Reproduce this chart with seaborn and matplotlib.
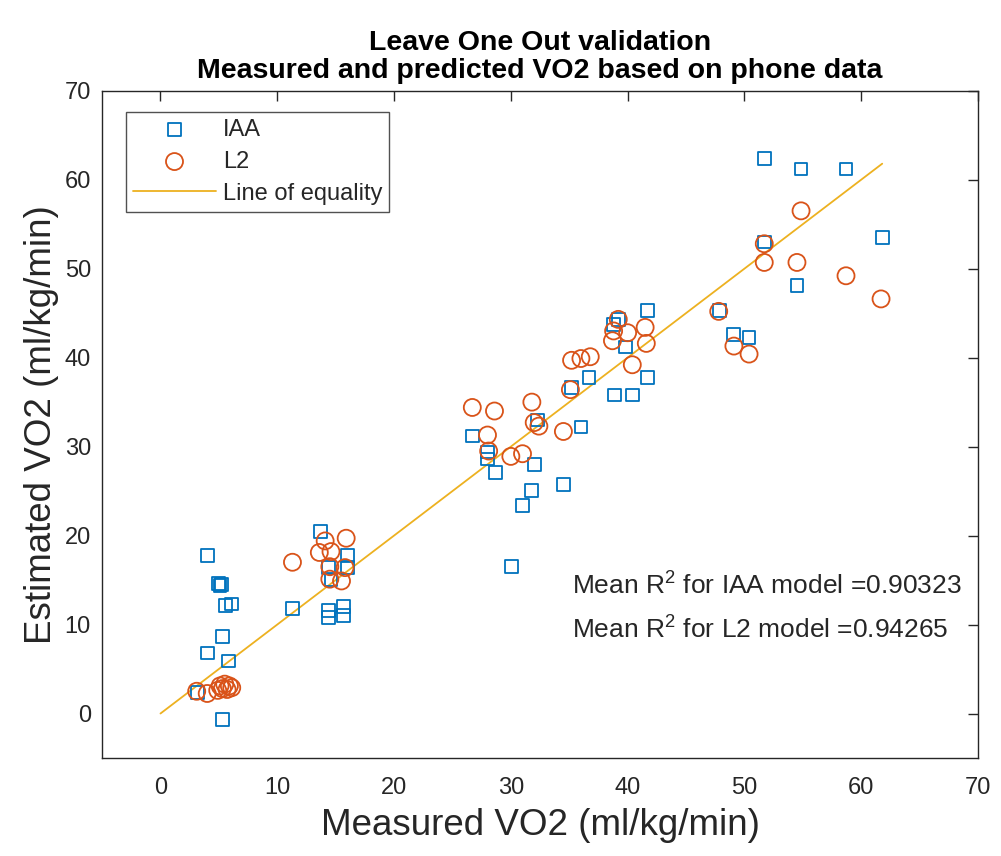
import matplotlib
matplotlib.use("Agg")
import matplotlib.pyplot as plt
import seaborn as sns
import pandas as pd

# IAA model (measured, estimated)
iaa_measured = [3.2, 4.0, 4.0, 5.0, 5.1, 5.2, 5.3, 5.3, 5.6, 6.1, 5.8,
                11.3, 13.7, 14.4, 14.6, 14.4, 14.4, 15.7, 15.7, 16.0, 16.0,
                26.7, 28.0, 28.0, 28.7, 32.0, 31.8, 31.0, 34.5, 30.05, 32.3,
                36.0, 35.2, 36.7, 38.9, 40.4, 41.7, 39.8, 38.8, 39.2, 41.7,
                51.7, 54.85, 58.7, 61.8, 51.7, 54.5, 47.9, 49.1, 50.4]
iaa_estimated = [2.4, 17.75, 6.8, 14.6, 14.4, 14.5, 8.7, -0.7, 12.1, 12.3, 5.9,
                 11.8, 20.5, 16.4, 15.1, 11.6, 10.8, 12.0, 11.0, 17.8, 16.4,
                 31.2, 29.4, 28.6, 27.1, 28.0, 25.05, 23.4, 25.7, 16.5, 33.0,
                 32.2, 36.6, 37.8, 35.8, 35.8, 37.8, 41.2, 43.7, 44.3, 45.3,
                 62.4, 61.2, 61.2, 53.5, 53.0, 48.1, 45.3, 42.6, 42.3]

# L2 model (measured, estimated)
l2_measured = [3.1, 4.0, 4.9, 5.1, 5.3, 5.5, 5.7, 5.9, 6.1,
               11.3, 13.6, 14.1, 14.6, 15.9, 14.5, 15.8, 14.5, 15.5,
               26.7, 28.6, 28.0, 28.1, 30.0, 31.0, 31.8, 32.0, 32.4, 34.5,
               35.1, 35.2, 36.0, 36.8, 38.7, 38.8, 39.2, 40.0, 40.4, 41.5, 41.6,
               47.8, 49.1, 50.4, 51.7, 51.7, 54.5, 54.85, 58.7, 61.7]
l2_estimated = [2.5, 2.25, 2.6, 3.1, 2.8, 3.3, 2.7, 3.1, 2.9,
                17.0, 18.1, 19.4, 18.2, 19.7, 16.5, 16.4, 15.1, 14.9,
                34.4, 34.0, 31.3, 29.5, 28.9, 29.2, 35.0, 32.7, 32.3, 31.7,
                36.4, 39.7, 39.9, 40.1, 41.9, 43.0, 44.3, 42.8, 39.2, 43.4, 41.6,
                45.2, 41.3, 40.4, 52.8, 50.7, 50.7, 56.5, 49.2, 46.6]

x_ticks = [0, 10, 20, 30, 40, 50, 60, 70]
y_ticks = [0, 10, 20, 30, 40, 50, 60, 70]
r2_iaa = "0.90323"
r2_l2 = "0.94265"

BLUE = "#0072BD"
ORANGE = "#D95319"
YELLOW = "#EDB120"
DARK = "#262626"

sns.set_style("white")
plt.rcParams['font.family'] = ['Liberation Sans', 'DejaVu Sans']
plt.rcParams['mathtext.fontset'] = 'custom'
plt.rcParams['mathtext.rm'] = 'Liberation Sans'

fig = plt.figure(figsize=(10.01, 8.56), dpi=100)
ax = fig.add_axes([0.102, 0.1145, 0.875, 0.7795])

df_iaa = pd.DataFrame({"m": iaa_measured, "e": iaa_estimated})
df_l2 = pd.DataFrame({"m": l2_measured, "e": l2_estimated})
line_x = [0, max(max(iaa_measured), max(l2_measured))]
df_line = pd.DataFrame({"m": line_x, "e": line_x})

sns.scatterplot(data=df_iaa, x="m", y="e", marker="s", s=85, facecolors="none",
                edgecolor=BLUE, linewidth=1.3, ax=ax, label="IAA", zorder=3)
sns.scatterplot(data=df_l2, x="m", y="e", marker="o", s=150, facecolors="none",
                edgecolor=ORANGE, linewidth=1.3, ax=ax, label="L2", zorder=3)
sns.lineplot(data=df_line, x="m", y="e", color=YELLOW, linewidth=1.3, ax=ax,
             label="Line of equality", zorder=2)

ax.set_xlim(-5, 70)
ax.set_ylim(-5, 70)
ax.set_xticks(x_ticks)
ax.set_yticks(y_ticks)
ax.tick_params(axis="both", which="both", direction="in", length=7, width=1,
               top=True, right=True, labelsize=17, colors=DARK,
               labelcolor=DARK, pad=8)
ax.tick_params(axis="x", pad=14)
for sp in ax.spines.values():
    sp.set_color(DARK)
    sp.set_linewidth(1.0)

ax.set_xlabel("Measured VO2 (ml/kg/min)", fontsize=26.5, color=DARK, labelpad=6)
ax.set_ylabel("Estimated VO2 (ml/kg/min)", fontsize=26.5, color=DARK, labelpad=4)
ax.set_title("Leave One Out validation\nMeasured and predicted VO2 based on phone data",
             fontsize=20.5, fontweight="bold", color="black", pad=9, linespacing=1.1)

ax.text(0.537, 0.247, r"Mean R$^{2}$ for IAA model =" + r2_iaa, transform=ax.transAxes,
        fontsize=19, color=DARK)
ax.text(0.537, 0.181, r"Mean R$^{2}$ for L2 model =" + r2_l2, transform=ax.transAxes,
        fontsize=19, color=DARK)

leg = ax.legend(loc="upper left", bbox_to_anchor=(0.0274, 0.9685), fontsize=17,
                frameon=True, fancybox=False, edgecolor=DARK,
                borderpad=0.3, handlelength=3.5, labelspacing=0.42,
                handletextpad=0.3, borderaxespad=0)
leg.get_frame().set_linewidth(1.0)
leg.get_frame().set_facecolor("white")

fig.savefig("out.png", dpi=100, facecolor="white")
